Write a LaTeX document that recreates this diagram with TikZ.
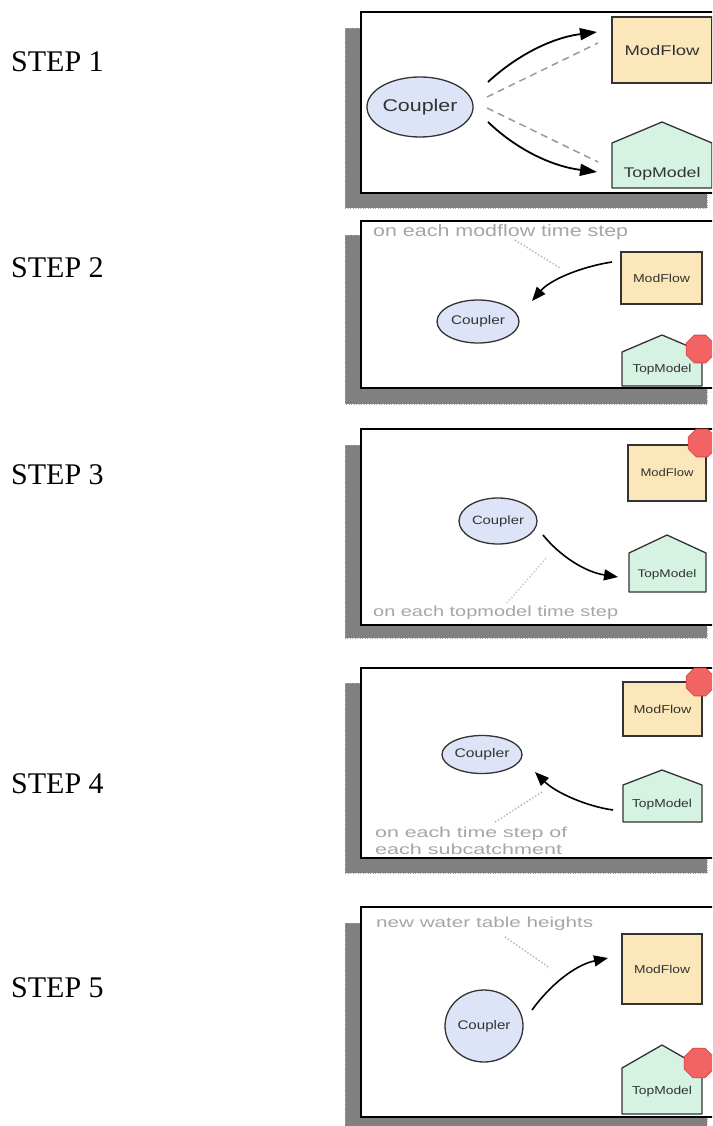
\documentclass[tikz,border=0pt]{standalone}
\usepackage{fontspec}
\usepackage{graphicx}
\setmainfont{Liberation Serif}
\newfontfamily\panelfont{Liberation Sans}
\usetikzlibrary{arrows.meta,shapes.geometric}

\definecolor{modfill}{HTML}{FCE7BB}
\definecolor{topfill}{HTML}{D5F2E3}
\definecolor{couplerfill}{HTML}{DEE4F8}
\definecolor{stopred}{HTML}{F26464}
\definecolor{stopedge}{HTML}{D94A4A}
\definecolor{edge}{HTML}{333333}
\definecolor{shadowgray}{HTML}{808080}
\definecolor{shadowedge}{HTML}{A8A8A8}
\definecolor{notegray}{HTML}{A6A6A6}
\definecolor{hintgray}{HTML}{B4B4B4}
\definecolor{dashgray}{HTML}{9A9A9A}

% sans text squeezed or stretched to a given width (pt), at a given size
\newcommand{\fitw}[3]{\resizebox{#1pt}{\height}{\panelfont\fontsize{#2}{#2}\selectfont #3}}

\tikzset{
  stepname/.style={font=\fontsize{30}{30}\selectfont, anchor=base west, inner sep=0pt},
  framebox/.style={draw=black, line width=2.5pt, fill=white},
  shadowbox/.style={fill=shadowgray, draw=shadowedge, dotted, line width=0.5pt},
  coupler/.style={ellipse, draw=edge, line width=1.3pt, fill=couplerfill, inner sep=0pt, text=edge},
  modbox/.style={rectangle, draw=edge, line width=1.3pt, fill=modfill, inner sep=0pt, text=edge},
  topshape/.style={draw=edge, line width=1.3pt, fill=topfill, line join=round},
  toptext/.style={inner sep=0pt, text=edge},
  stopmark/.style={regular polygon, regular polygon sides=8, fill=stopred, draw=stopedge,
    line width=0.8pt, minimum size=30pt, inner sep=0pt},
  flow/.style={-{Triangle[length=14pt,width=11pt]}, line width=1.6pt, black},
  bigflow/.style={-{Triangle[length=17pt,width=12pt]}, line width=1.8pt, black},
  hint/.style={dotted, line width=1.4pt, hintgray},
  probe/.style={dash pattern=on 7pt off 5pt, line width=1.5pt, dashgray},
  note/.style={anchor=base west, inner sep=0pt, text=notegray},
}

\begin{document}
\begin{tikzpicture}[x=1pt, y=-1pt]
\useasboundingbox (0,0) rectangle (712,1126);
\clip (0,0) rectangle (712,1126);

% step captions
\node[stepname] (s1) at (11,72)  {STEP 1};
\node[stepname] (s2) at (11,277) {STEP 2};
\node[stepname] (s3) at (11,484) {STEP 3};
\node[stepname] (s4) at (11,793) {STEP 4};
\node[stepname] (s5) at (11,997) {STEP 5};

% ---------- step 1 ----------
\path[shadowbox] (345,28) rectangle (707,208);
\path[framebox] (361,12) rectangle (730,193);
\node[coupler, minimum width=106pt, minimum height=60pt] (cp1) at (420,107) {\fitw{75}{17}{Coupler}};
\node[modbox, minimum width=100pt, minimum height=66pt] (mf1) at (662,50) {\fitw{75}{14}{ModFlow}};
\filldraw[topshape] (612,188) -- (612,143) -- (662,122) -- (712,143) -- (712,188) -- cycle;
\node[toptext] (tm1) at (662,174) {\fitw{77}{14}{TopModel}};
\coordinate (p1a) at (488,82);  \coordinate (p1b) at (597,32);
\coordinate (p1c) at (487,97);  \coordinate (p1d) at (598,43);
\coordinate (p1e) at (487,108); \coordinate (p1f) at (598,162);
\coordinate (p1g) at (488,122); \coordinate (p1h) at (597,172);
\draw[bigflow] (p1a) .. controls (515,57) and (550,38) .. (p1b);
\draw[probe] (p1c) -- (p1d);
\draw[probe] (p1e) -- (p1f);
\draw[bigflow] (p1g) .. controls (515,148) and (550,166) .. (p1h);

% ---------- step 2 ----------
\path[shadowbox] (345,235) rectangle (707,404);
\path[framebox] (361,221) rectangle (730,388);
\node[note] (n2) at (373,236) {\fitw{255}{16.5}{on each modflow time step}};
\node[coupler, minimum width=82pt, minimum height=43pt] (cp2) at (478,321.5) {\fitw{54}{12.5}{Coupler}};
\node[modbox, minimum width=81pt, minimum height=52pt] (mf2) at (661.5,278) {\fitw{57}{11.5}{ModFlow}};
\filldraw[topshape] (622,386) -- (622,352) -- (662,335) -- (702,352) -- (702,386) -- cycle;
\node[toptext] (tm2) at (662,370) {\fitw{59}{11.5}{TopModel}};
\node[stopmark] (x2) at (700,349) {};
\coordinate (p2a) at (612,262); \coordinate (p2b) at (532,301);
\coordinate (p2c) at (515,240); \coordinate (p2d) at (560,268);
\draw[hint] (p2c) -- (p2d);
\draw[flow] (p2a) .. controls (580,267) and (550,280) .. (p2b);

% ---------- step 3 ----------
\path[shadowbox] (345,445) rectangle (707,638);
\path[framebox] (361,429) rectangle (730,625);
\node[coupler, minimum width=78pt, minimum height=46pt] (cp3) at (498,521) {\fitw{52}{12}{Coupler}};
\node[modbox, minimum width=78pt, minimum height=56pt] (mf3) at (667,473) {\fitw{53}{11}{ModFlow}};
\filldraw[topshape] (629,592) -- (629,553) -- (667,535) -- (706,553) -- (706,592) -- cycle;
\node[toptext] (tm3) at (667,575) {\fitw{59}{11}{TopModel}};
\node[stopmark] (x3) at (702,443) {};
\coordinate (p3a) at (543,535); \coordinate (p3b) at (618,577);
\coordinate (p3c) at (507,603); \coordinate (p3d) at (547,557);
\draw[hint, hintgray!70] (p3c) -- (p3d);
\draw[flow] (p3a) .. controls (560,556) and (585,572) .. (p3b);
\node[note] (n3) at (373,616) {\fitw{245}{14.5}{on each topmodel time step}};

% ---------- step 4 ----------
\path[shadowbox] (345,683) rectangle (707,873);
\path[framebox] (361,668) rectangle (730,858);
\node[coupler, minimum width=80pt, minimum height=38pt] (cp4) at (482,754.5) {\fitw{55}{12.5}{Coupler}};
\node[modbox, minimum width=79pt, minimum height=54pt] (mf4) at (662.5,709) {\fitw{58}{11.5}{ModFlow}};
\filldraw[topshape] (623,822) -- (623,785) -- (662,770) -- (702,785) -- (702,822) -- cycle;
\node[toptext] (tm4) at (662,805) {\fitw{60}{11.5}{TopModel}};
\node[stopmark] (x4) at (700,682) {};
\coordinate (p4a) at (613,810); \coordinate (p4b) at (535,772);
\coordinate (p4c) at (495,822); \coordinate (p4d) at (542,792);
\draw[hint] (p4c) -- (p4d);
\draw[flow] (p4a) .. controls (585,806) and (555,792) .. (p4b);
\node[note] (n4a) at (375,837) {\fitw{192}{14.5}{on each time step of}};
\node[note] (n4b) at (375,854) {\fitw{187}{14.5}{each subcatchment}};

% ---------- step 5 ----------
\path[shadowbox] (345,923) rectangle (707,1135);
\path[framebox] (361,907) rectangle (730,1117);
\node[note] (n5) at (376,927) {\fitw{217}{14.5}{new water table heights}};
\node[coupler, minimum width=78pt, minimum height=72pt] (cp5) at (484,1026) {\fitw{53}{12.5}{Coupler}};
\node[modbox, minimum width=80pt, minimum height=70pt] (mf5) at (662,969) {\fitw{56}{11.5}{ModFlow}};
\filldraw[topshape] (622,1114) -- (622,1068) -- (662,1045) -- (702,1068) -- (702,1114) -- cycle;
\node[toptext] (tm5) at (662,1092) {\fitw{60}{11.5}{TopModel}};
\node[stopmark, minimum size=32pt] (x5) at (699,1063) {};
\coordinate (p5a) at (532,1010); \coordinate (p5b) at (608,958);
\coordinate (p5c) at (505,937);  \coordinate (p5d) at (550,968);
\draw[hint] (p5c) -- (p5d);
\draw[flow] (p5a) .. controls (550,985) and (575,965) .. (p5b);
\end{tikzpicture}
\end{document}
